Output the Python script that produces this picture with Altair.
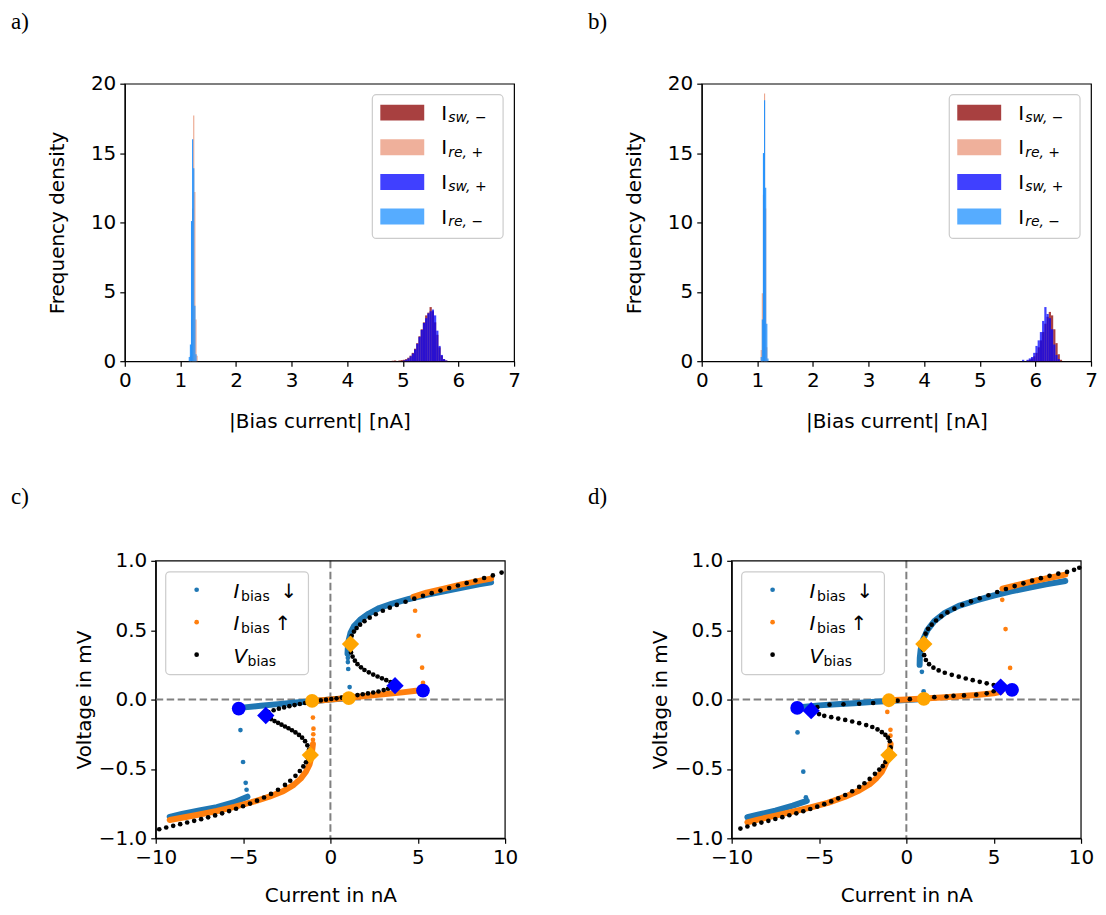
import altair as alt
import pandas as pd

FONT = "DejaVu Sans"
SERIF = "Liberation Serif"

# ---------------- Histogram data (panel a) ----------------
NARROW_BIN = 0.02
WIDE_BIN = 0.04
a_re_minus_start = [1.15, 1.17, 1.19, 1.21, 1.23, 1.25, 1.27]
a_re_minus_h = [0.3, 1.2, 10.1, 16.0, 13.9, 4.0, 0.5]
a_re_plus_start = [1.17, 1.19, 1.21, 1.23, 1.25, 1.27, 1.29]
a_re_plus_h = [0.4, 3.0, 11.0, 17.7, 12.2, 3.0, 0.4]
a_sw_minus_start = [4.80, 4.84, 4.92, 4.96, 5.00, 5.04, 5.08, 5.12, 5.16, 5.20, 5.24, 5.28,
                    5.32, 5.36, 5.40, 5.44, 5.48, 5.52, 5.56, 5.60, 5.64, 5.68, 5.72, 5.76]
a_sw_minus_h = [0.03, 0.05, 0.05, 0.08, 0.1, 0.15, 0.25, 0.4, 0.6, 0.9, 1.3, 1.8,
                2.3, 2.8, 3.3, 3.5, 3.9, 3.6, 2.8, 1.9, 1.0, 0.4, 0.15, 0.05]
a_sw_plus_start = [5.00, 5.04, 5.08, 5.12, 5.16, 5.20, 5.24, 5.28, 5.32, 5.36,
                   5.40, 5.44, 5.48, 5.52, 5.56, 5.60, 5.64, 5.68, 5.72, 5.76]
a_sw_plus_h = [0.05, 0.1, 0.2, 0.35, 0.55, 0.85, 1.25, 1.75, 2.25, 2.75,
               3.1, 3.45, 3.6, 3.72, 3.3, 2.2, 1.1, 0.45, 0.15, 0.05]

# ---------------- Histogram data (panel b) ----------------
b_re_minus_start = [1.06, 1.08, 1.10, 1.12, 1.14, 1.16, 1.18]
b_re_minus_h = [0.3, 3.0, 15.0, 18.8, 12.5, 2.7, 0.2]
b_re_plus_start = [1.06, 1.08, 1.10, 1.12, 1.14, 1.16]
b_re_plus_h = [0.8, 4.9, 12.0, 19.3, 11.0, 1.0]
b_sw_minus_start = [5.84, 5.88, 5.92, 5.96, 6.00, 6.04, 6.08, 6.12, 6.16, 6.20, 6.24, 6.28,
                    6.32, 6.36, 6.40, 6.44]
b_sw_minus_h = [0.05, 0.1, 0.2, 0.35, 0.6, 1.0, 1.5, 2.1, 2.7, 3.2, 3.55, 3.3, 2.3, 1.3, 0.5, 0.1]
b_sw_plus_start = [5.76, 5.84, 5.88, 5.92, 5.96, 6.00, 6.04, 6.08, 6.12, 6.16, 6.20, 6.24,
                   6.28, 6.32, 6.36, 6.40]
b_sw_plus_h = [0.1, 0.1, 0.2, 0.3, 0.6, 1.1, 1.5, 2.1, 2.9, 3.9, 3.4, 3.1, 2.3, 1.2, 0.45, 0.15]

# ---------------- IV data (panel c) ----------------
c_down_up_I = [9.2, 8.5, 7.5, 6.5, 5.5, 4.5, 3.5, 2.8, 2.2, 1.7, 1.35, 1.15, 1.05, 1.0, 0.98]
c_down_up_V = [0.845, 0.83, 0.805, 0.78, 0.755, 0.725, 0.69, 0.66, 0.62, 0.575, 0.53, 0.48, 0.43, 0.38, 0.33]
c_down_low_I = [1.0, 0.0, -1.0, -2.0, -3.0, -4.0, -5.2]
c_down_low_V = [0.01, 0.0, -0.012, -0.022, -0.033, -0.045, -0.06]
c_down_ll_I = [-4.75, -5.5, -6.5, -7.5, -8.5, -9.2]
c_down_ll_V = [-0.70, -0.74, -0.775, -0.80, -0.825, -0.845]
c_down_dots_I = [1.0, 1.0, 1.02, 1.1, -5.15, -5.0, -4.85, -4.8]
c_down_dots_V = [0.30, 0.27, 0.22, 0.09, -0.22, -0.45, -0.60, -0.65]

c_up_ll_I = [-9.2, -8.5, -7.5, -6.5, -5.5, -4.5, -3.5, -2.7, -2.1, -1.7, -1.4, -1.2, -1.1, -1.05, -1.0]
c_up_ll_V = [-0.868, -0.852, -0.828, -0.803, -0.773, -0.74, -0.70, -0.66, -0.615, -0.57, -0.52, -0.47, -0.42, -0.37, -0.32]
c_up_low_I = [-1.0, 0.0, 1.0, 2.0, 3.0, 4.0, 4.9]
c_up_low_V = [-0.01, 0.0, 0.012, 0.025, 0.038, 0.05, 0.063]
c_up_up_I = [4.75, 5.5, 6.5, 7.5, 8.5, 9.2]
c_up_up_V = [0.74, 0.77, 0.80, 0.83, 0.855, 0.872]
c_up_dots_I = [-1.0, -0.98, -0.97, -1.0, 5.3, 5.25, 5.05, 4.85]
c_up_dots_V = [-0.29, -0.25, -0.21, -0.13, 0.12, 0.23, 0.46, 0.64]

c_vb_I = [-9.8, -9.4, -9.0, -8.6, -8.2, -7.8, -7.4, -7.0, -6.6, -6.2, -5.8, -5.4, -5.0, -4.6, -4.2, -3.8,
          -3.4, -3.0, -2.6, -2.3, -2.0, -1.75, -1.55, -1.4, -1.28, -1.2,
          -1.22, -1.32, -1.45, -1.62, -1.8, -2.0, -2.2, -2.4, -2.6, -2.8, -3.0, -3.2, -3.4, -3.6,
          -3.55, -3.25, -2.95, -2.65, -2.35, -2.05, -1.75, -1.45, -1.15, -0.85, -0.55, -0.25, 0.05,
          0.35, 0.65, 0.95, 1.25, 1.55, 1.85, 2.15, 2.45, 2.75, 3.05, 3.3, 3.5,
          3.45, 3.2, 2.95, 2.7, 2.45, 2.2, 1.95, 1.75, 1.55, 1.4, 1.27, 1.18, 1.12,
          1.15, 1.22, 1.35, 1.5, 1.7, 1.95, 2.25, 2.6, 3.0, 3.4, 3.8, 4.3, 4.8, 5.3, 5.8, 6.3, 6.8,
          7.3, 7.8, 8.3, 8.8, 9.3, 9.8]
c_vb_V = [-0.935, -0.922, -0.91, -0.898, -0.886, -0.874, -0.862, -0.849, -0.835, -0.82, -0.804, -0.787,
          -0.769, -0.75, -0.729, -0.706, -0.68, -0.65, -0.615, -0.585, -0.55, -0.515, -0.482, -0.452,
          -0.425, -0.395,
          -0.36, -0.33, -0.30, -0.275, -0.255, -0.237, -0.221, -0.207, -0.194, -0.181, -0.168, -0.155,
          -0.141, -0.125,
          -0.09, -0.077, -0.066, -0.057, -0.048, -0.04, -0.032, -0.025, -0.018, -0.012, -0.006, -0.001,
          0.004, 0.009, 0.014, 0.02, 0.026, 0.032, 0.038, 0.044, 0.051, 0.058, 0.068, 0.078, 0.09,
          0.125, 0.14, 0.153, 0.166, 0.18, 0.196, 0.213, 0.232, 0.255, 0.28, 0.31, 0.34, 0.37,
          0.43, 0.46, 0.49, 0.515, 0.54, 0.565, 0.59, 0.615, 0.64, 0.662, 0.682, 0.705, 0.727, 0.748,
          0.767, 0.786, 0.804, 0.822, 0.84, 0.858, 0.876, 0.895, 0.915]

c_orange_circ_I = [-1.05, 1.05]
c_orange_circ_V = [-0.01, 0.01]
c_blue_circ_I = [-5.25, 5.3]
c_blue_circ_V = [-0.065, 0.065]
c_orange_diam_I = [-1.15, 1.15]
c_orange_diam_V = [-0.4, 0.4]
c_blue_diam_I = [-3.7, 3.7]
c_blue_diam_V = [-0.115, 0.1]

# ---------------- IV data (panel d) ----------------
d_down_up_I = [9.1, 8.0, 7.0, 6.0, 5.0, 4.0, 3.0, 2.2, 1.6, 1.2, 0.95, 0.82, 0.77, 0.76]
d_down_up_V = [0.855, 0.83, 0.805, 0.78, 0.75, 0.715, 0.675, 0.625, 0.565, 0.5, 0.43, 0.36, 0.30, 0.25]
d_down_low_I = [1.0, 0.0, -1.0, -2.0, -3.0, -4.0, -5.0, -6.1]
d_down_low_V = [0.004, -0.003, -0.01, -0.018, -0.026, -0.034, -0.042, -0.055]
d_down_ll_I = [-5.7, -6.5, -7.5, -8.5, -9.1]
d_down_ll_V = [-0.73, -0.765, -0.80, -0.83, -0.848]
d_down_dots_I = [0.89, 0.99, -6.23, -5.9, -5.75]
d_down_dots_V = [0.2, 0.06, -0.237, -0.52, -0.705]

d_up_ll_I = [-9.1, -8.5, -7.5, -6.5, -5.5, -4.5, -3.5, -2.7, -2.1, -1.7, -1.4, -1.2, -1.05, -0.95, -0.9]
d_up_ll_V = [-0.885, -0.865, -0.837, -0.808, -0.778, -0.745, -0.70, -0.655, -0.61, -0.565, -0.52, -0.47, -0.42, -0.37, -0.32]
d_up_low_I = [-1.0, 0.0, 1.0, 2.0, 3.0, 4.0, 5.0, 5.4]
d_up_low_V = [-0.005, 0.0, 0.007, 0.015, 0.024, 0.033, 0.045, 0.055]
d_up_up_I = [5.5, 6.5, 7.5, 8.5, 9.1]
d_up_up_V = [0.80, 0.83, 0.86, 0.885, 0.90]
d_up_dots_I = [-0.91, -0.91, -1.09, 5.49, 5.68, 5.94]
d_up_dots_V = [-0.26, -0.218, -0.089, 0.719, 0.508, 0.228]

d_vb_I = [-9.5, -9.1, -8.7, -8.3, -7.9, -7.5, -7.1, -6.7, -6.3, -5.9, -5.5, -5.1, -4.7, -4.3, -3.9, -3.5,
          -3.1, -2.7, -2.4, -2.1, -1.8, -1.55, -1.35, -1.2, -1.1, -1.0,
          -0.9, -0.95, -1.05, -1.2, -1.4, -1.65, -1.95, -2.3, -2.7, -3.1, -3.5, -3.9, -4.3, -4.7, -5.0,
          -5.1, -4.4, -3.6, -2.7, -1.9, -1.2, -0.5, 0.2, 0.9, 1.6, 2.3, 2.7, 3.3, 4.0, 4.6, 5.0,
          5.0, 4.6, 4.2, 3.8, 3.4, 3.0, 2.6, 2.2, 1.85, 1.55, 1.3, 1.12, 1.02, 0.95,
          1.0, 1.1, 1.25, 1.45, 1.7, 2.0, 2.35, 2.75, 3.2, 3.7, 4.2, 4.7, 5.2, 5.7, 6.2, 6.7, 7.2,
          7.7, 8.2, 8.7, 9.2, 9.6, 9.9]
d_vb_V = [-0.93, -0.915, -0.90, -0.887, -0.874, -0.861, -0.848, -0.834, -0.82, -0.805, -0.789, -0.772,
          -0.754, -0.734, -0.712, -0.688, -0.661, -0.63, -0.603, -0.572, -0.535, -0.505, -0.48, -0.45,
          -0.42, -0.39,
          -0.345, -0.30, -0.275, -0.255, -0.235, -0.215, -0.198, -0.184, -0.17, -0.158, -0.147, -0.137,
          -0.127, -0.117, -0.105,
          -0.055, -0.037, -0.034, -0.03, -0.025, -0.018, -0.008, 0.003, 0.01, 0.017, 0.022, 0.027, 0.03,
          0.035, 0.045, 0.06,
          0.105, 0.117, 0.128, 0.14, 0.152, 0.165, 0.178, 0.193, 0.21, 0.23, 0.255, 0.285, 0.32, 0.36,
          0.44, 0.475, 0.51, 0.54, 0.57, 0.6, 0.628, 0.655, 0.682, 0.708, 0.73, 0.752, 0.775, 0.797,
          0.818, 0.838, 0.857, 0.875, 0.892, 0.907, 0.92, 0.935, 0.95]

d_orange_circ_I = [-1.0, 1.0]
d_orange_circ_V = [-0.005, 0.005]
d_blue_circ_I = [-6.25, 6.05]
d_blue_circ_V = [-0.06, 0.07]
d_orange_diam_I = [-1.0, 1.0]
d_orange_diam_V = [-0.4, 0.4]
d_blue_diam_I = [-5.45, 5.4]
d_blue_diam_V = [-0.08, 0.09]

# ---------------- styling ----------------
HIST_W, HIST_H = 390, 278
IV_PLOT_W, IV_H = 350, 278
CELL_W = 396.4            # common cell width so that every column lines up
LABEL_DX = -114
TAB_BLUE = "#1f77b4"
TAB_ORANGE = "#ff7f0e"
BLANK = alt.Data(values=[{}])
MINUS = "replace(datum.label, '-', '\u2212')"

hist_x = alt.Scale(domain=[0, 7], nice=False, zero=False)
hist_y = alt.Scale(domain=[0, 20], nice=False)
hist_x_axis = alt.Axis(values=list(range(8)), title="|Bias current| [nA]", titlePadding=21)
hist_y_axis = alt.Axis(values=[0, 5, 10, 15, 20], title="Frequency density", titlePadding=23)


def txt(x, y, s, size=20, style="normal", font=FONT, baseline="alphabetic"):
    return alt.Chart(BLANK).mark_text(
        text=s, font=font, fontSize=size, fontStyle=style, align="left",
        baseline=baseline, color="black"
    ).encode(x=alt.value(x), y=alt.value(y))


def box(x1, y1, x2, y2):
    return alt.Chart(BLANK).mark_rect(
        fill="white", fillOpacity=0.8, stroke="#cccccc", strokeWidth=1.2, cornerRadius=4
    ).encode(x=alt.value(x1), x2=alt.value(x2), y=alt.value(y1), y2=alt.value(y2))


def hist_bars(starts, heights, width, color, opacity):
    df = pd.DataFrame({"start": starts, "h": heights})
    df["end"] = df["start"] + width
    return alt.Chart(df).mark_bar(color=color, opacity=opacity).encode(
        x=alt.X("start:Q", scale=hist_x, axis=hist_x_axis),
        x2="end:Q",
        y=alt.Y("h:Q", scale=hist_y, axis=hist_y_axis),
        y2=alt.datum(0),
    )


HIST_LEGEND = [
    ("#a84040", "sw, \u2212"),
    ("#efb09b", "re, +"),
    ("#4040ff", "sw, +"),
    ("#56acff", "re, \u2212"),
]


def hist_panel(label, sw_minus, re_plus, sw_plus, re_minus):
    layers = [
        hist_bars(sw_minus[0], sw_minus[1], WIDE_BIN, "darkred", 0.75),
        hist_bars(re_plus[0], re_plus[1], NARROW_BIN, "darksalmon", 0.85),
        hist_bars(sw_plus[0], sw_plus[1], WIDE_BIN, "blue", 0.75),
        hist_bars(re_minus[0], re_minus[1], NARROW_BIN, "dodgerblue", 0.95),
        box(248, 11, 379, 155),
    ]
    for k, (col, sub) in enumerate(HIST_LEGEND):
        cy = 29 + k * 34.7
        layers.append(alt.Chart(BLANK).mark_rect(color=col).encode(
            x=alt.value(256), x2=alt.value(300), y=alt.value(cy - 8), y2=alt.value(cy + 8)))
        layers.append(txt(317, cy + 7, "I", 20))
        layers.append(txt(324, cy + 9.5, sub, 14, "italic"))
    layers.append(txt(LABEL_DX, -73, label, 23, font=SERIF, baseline="top"))
    return alt.layer(*layers).properties(width=HIST_W, height=HIST_H)


def iv_panel(label, off, down_segs, down_dots, up_segs, up_dots, vb, big):
    xs = alt.Scale(domain=[-10, 10], range=[off, off + IV_PLOT_W], nice=False, zero=False)
    ys = alt.Scale(domain=[-1, 1], nice=False, zero=False)
    xa = alt.Axis(values=[-10, -5, 0, 5, 10], title="Current in nA", labelExpr=MINUS, titlePadding=18)
    ya = alt.Axis(values=[-1, -0.5, 0, 0.5, 1], format=".1f", title="Voltage in mV",
                  labelExpr=MINUS, titlePadding=4, offset=-off)

    def enc(ch):
        return ch.encode(x=alt.X("I:Q", scale=xs, axis=xa), y=alt.Y("V:Q", scale=ys, axis=ya))

    def dots(I, V, color, size=22, shape="circle"):
        return enc(alt.Chart(pd.DataFrame({"I": I, "V": V})).mark_point(
            shape=shape, filled=True, size=size, color=color, opacity=1))

    def bands(segs, color):
        rows = []
        for s, (I, V) in enumerate(segs):
            for k, (i, v) in enumerate(zip(I, V)):
                rows.append({"I": i, "V": v, "seg": s, "k": k})
        return enc(alt.Chart(pd.DataFrame(rows)).mark_line(
            color=color, strokeWidth=6, strokeCap="round", strokeJoin="round"
        )).encode(detail="seg:N", order="k:Q")

    zero_v = alt.Chart(pd.DataFrame({"I": [0]})).mark_rule(
        color="gray", strokeDash=[7.5, 3.5], strokeWidth=2
    ).encode(x=alt.X("I:Q", scale=xs, axis=xa))
    zero_h = alt.Chart(pd.DataFrame({"V": [0], "I": [-10], "I2": [10]})).mark_rule(
        color="gray", strokeDash=[7.5, 3.5], strokeWidth=2
    ).encode(x=alt.X("I:Q", scale=xs, axis=xa), x2="I2:Q", y=alt.Y("V:Q", scale=ys, axis=ya))
    frame = alt.Chart(BLANK).mark_rect(
        fill="white", fillOpacity=0, stroke="black", strokeWidth=1.2
    ).encode(x=alt.value(off), x2=alt.value(off + IV_PLOT_W), y=alt.value(0), y2=alt.value(IV_H))

    layers = [
        zero_v, zero_h,
        bands(down_segs, TAB_BLUE),
        dots(down_dots[0], down_dots[1], TAB_BLUE),
        bands(up_segs, TAB_ORANGE),
        dots(up_dots[0], up_dots[1], TAB_ORANGE),
        dots(vb[0], vb[1], "black", 22),
        dots(big["oc"][0], big["oc"][1], "orange", 190),
        dots(big["bc"][0], big["bc"][1], "blue", 190),
        dots(big["od"][0], big["od"][1], "orange", 300, "diamond"),
        dots(big["bd"][0], big["bd"][1], "blue", 300, "diamond"),
        frame,
        box(off + 10, 11, off + 153, 114),
    ]
    for k, col in enumerate([TAB_BLUE, TAB_ORANGE, "black"]):
        cy = 29 + k * 32.5
        layers.append(alt.Chart(BLANK).mark_point(
            shape="circle", filled=True, size=22, color=col, opacity=1
        ).encode(x=alt.value(off + 41), y=alt.value(cy)))
    layers += [
        txt(off + 78, 29 + 8, "I", 20, "italic"),
        txt(off + 85.5, 29 + 11, "bias", 14),
        txt(off + 125, 29 + 8, "\u2193", 20),
        txt(off + 78, 61.5 + 8, "I", 20, "italic"),
        txt(off + 85.5, 61.5 + 11, "bias", 14),
        txt(off + 119, 61.5 + 8, "\u2191", 20),
        txt(off + 78, 94 + 8, "V", 20, "italic"),
        txt(off + 92, 94 + 11, "bias", 14),
        txt(LABEL_DX, -75, label, 23, font=SERIF, baseline="top"),
    ]
    return alt.layer(*layers).properties(
        width=CELL_W, height=IV_H, view=alt.ViewBackground(stroke="transparent")
    )


panel_a = hist_panel("a)", (a_sw_minus_start, a_sw_minus_h), (a_re_plus_start, a_re_plus_h),
                     (a_sw_plus_start, a_sw_plus_h), (a_re_minus_start, a_re_minus_h))
panel_b = hist_panel("b)", (b_sw_minus_start, b_sw_minus_h), (b_re_plus_start, b_re_plus_h),
                     (b_sw_plus_start, b_sw_plus_h), (b_re_minus_start, b_re_minus_h))

panel_c = iv_panel(
    "c)", 31,
    [(c_down_up_I, c_down_up_V), (c_down_low_I, c_down_low_V), (c_down_ll_I, c_down_ll_V)],
    (c_down_dots_I, c_down_dots_V),
    [(c_up_ll_I, c_up_ll_V), (c_up_low_I, c_up_low_V), (c_up_up_I, c_up_up_V)],
    (c_up_dots_I, c_up_dots_V),
    (c_vb_I, c_vb_V),
    {"oc": (c_orange_circ_I, c_orange_circ_V), "bc": (c_blue_circ_I, c_blue_circ_V),
     "od": (c_orange_diam_I, c_orange_diam_V), "bd": (c_blue_diam_I, c_blue_diam_V)},
)
panel_d = iv_panel(
    "d)", 30,
    [(d_down_up_I, d_down_up_V), (d_down_low_I, d_down_low_V), (d_down_ll_I, d_down_ll_V)],
    (d_down_dots_I, d_down_dots_V),
    [(d_up_ll_I, d_up_ll_V), (d_up_low_I, d_up_low_V), (d_up_up_I, d_up_up_V)],
    (d_up_dots_I, d_up_dots_V),
    (d_vb_I, d_vb_V),
    {"oc": (d_orange_circ_I, d_orange_circ_V), "bc": (d_blue_circ_I, d_blue_circ_V),
     "od": (d_orange_diam_I, d_orange_diam_V), "bd": (d_blue_diam_I, d_blue_diam_V)},
)

chart = alt.concat(
    panel_a, panel_b, panel_c, panel_d, columns=2,
    spacing={"row": 53, "column": 66},
).properties(
    padding={"left": 2, "top": 1, "right": 0, "bottom": 0}, background="white"
).configure_view(
    stroke="black", strokeWidth=1.2
).configure_axis(
    labelFont=FONT, titleFont=FONT, labelFontSize=20, titleFontSize=20,
    titleFontWeight="normal", labelColor="black", titleColor="black",
    tickColor="black", domainColor="black", tickSize=5, tickWidth=1.2,
    domainWidth=1.2, grid=False, labelPadding=4, labelFlush=False,
)

chart.save("out.html", embed_options={"renderer": "svg", "actions": False})
